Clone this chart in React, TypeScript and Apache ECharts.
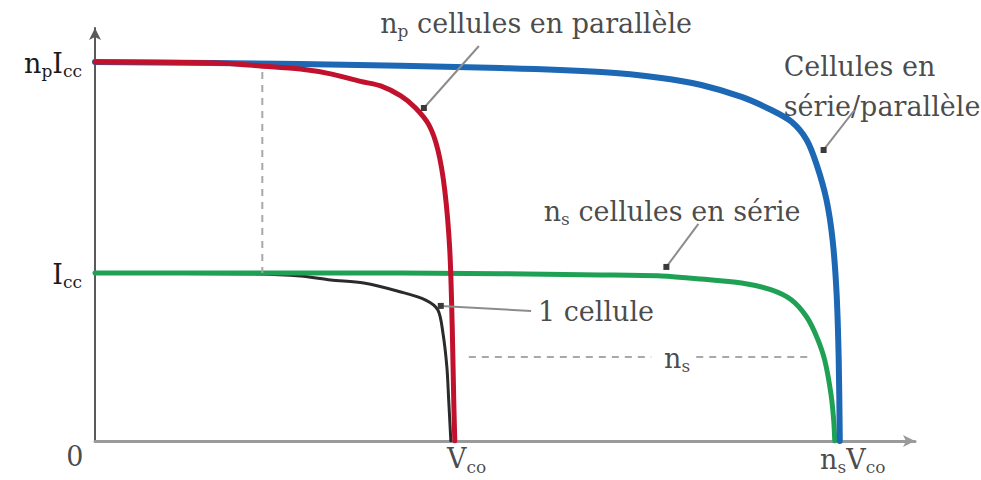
import React, { useEffect, useRef } from "react";
import * as echarts from "echarts";

// Units: x in Vco, y in Icc
const X_MAX = 2.279;
const Y_MAX = 2.458;

const Y_TICK_VALUES = [1, 2.256];
const Y_TICK_LABELS = ["{m|I}{s|cc}", "{m|n}{s|p}{m|I}{s|cc}"];

const redParallel: [number, number][] = [
  [0, 2.256], [0.34, 2.25], [0.46, 2.232], [0.571, 2.214], [0.655, 2.185],
  [0.738, 2.14], [0.794, 2.113], [0.85, 2.054], [0.891, 1.982], [0.928, 1.881],
  [0.953, 1.732], [0.972, 1.494], [0.986, 1.137], [0.993, 0.661], [0.997, 0.244], [1.0, 0],
];

const blueSeriesParallel: [number, number][] = [
  [0, 2.256], [0.571, 2.244], [1.128, 2.22], [1.407, 2.196], [1.574, 2.161],
  [1.685, 2.119], [1.797, 2.048], [1.88, 1.97], [1.936, 1.9], [1.978, 1.792],
  [2.006, 1.643], [2.033, 1.435], [2.05, 1.196], [2.061, 0.881], [2.067, 0.482], [2.07, 0],
];

const greenSeries: [number, number][] = [
  [0, 1.0], [0.85, 1.0], [1.407, 0.988], [1.574, 0.982], [1.685, 0.964],
  [1.797, 0.94], [1.88, 0.899], [1.936, 0.839], [1.978, 0.738], [2.006, 0.619],
  [2.028, 0.482], [2.045, 0.286], [2.053, 0.125], [2.056, 0],
];

const blackOneCell: [number, number][] = [
  [0, 1.0], [0.432, 0.994], [0.571, 0.982], [0.655, 0.958], [0.747, 0.94],
  [0.85, 0.887], [0.919, 0.839], [0.953, 0.78], [0.967, 0.643], [0.978, 0.44],
  [0.983, 0.244], [0.989, 0],
];

const dashVertical: [number, number][] = [[0.465, 2.196], [0.465, 1.0]];
const dashHorizontalA: [number, number][] = [[1.039, 0.5], [1.546, 0.5]];
const dashHorizontalB: [number, number][] = [[1.671, 0.5], [1.986, 0.5]];

const leaders: [number, number][][] = [
  [[1.067, 2.351], [0.914, 1.982]],
  [[2.111, 1.97], [2.025, 1.732]],
  [[1.677, 1.292], [1.588, 1.036]],
  [[1.212, 0.774], [0.961, 0.804]],
];

type Ann = { pos: [number, number]; text: string; align?: string };
const annotations: Ann[] = [
  { pos: [-0.056, -0.083], text: "{m|0}" },
  { pos: [1.033, -0.098], text: "{m|V}{s|co}" },
  { pos: [2.106, -0.1], text: "{m|n}{s|s}{m|V}{s|co}" },
  { pos: [1.226, 2.494], text: "{m|n}{s|p}{m| cellules en parallèle}" },
  { pos: [1.914, 2.107], text: "Cellules en\nsérie/parallèle", align: "left" },
  { pos: [1.604, 1.375], text: "{m|n}{s|s}{m| cellules en série}" },
  { pos: [1.231, 0.78], text: "{m|1 cellule}", align: "left" },
  { pos: [1.618, 0.5], text: "{m|n}{s|s}" },
];

const FONT = "'DejaVu Serif', 'Liberation Serif', serif";
const TEXT = "#1a1a1a";
const rich = {
  m: { fontSize: 27, fontFamily: FONT, color: TEXT, lineHeight: 30, verticalAlign: "bottom" },
  s: { fontSize: 17, fontFamily: FONT, color: TEXT, lineHeight: 17, verticalAlign: "bottom", padding: [0, 0, -3, 0] },
};

export default function App() {
  const ref = useRef<HTMLDivElement>(null);
  useEffect(() => {
    if (!ref.current) return;
    const chart = echarts.init(ref.current, null, { renderer: "svg" });
    const curve = (name: string, data: [number, number][], color: string, width: number) => ({
      name,
      type: "line",
      data,
      showSymbol: false,
      symbol: "none",
      smooth: 0.3,
      lineStyle: { color, width, cap: "round", join: "round" },
      silent: true,
    });
    const dashed = (data: [number, number][]) => ({
      type: "line",
      data,
      symbol: "none",
      lineStyle: { color: "#a8a8a8", width: 2, type: [7, 6] },
      silent: true,
    });
    const leaderSeries = leaders.map((seg) => ({
      type: "line",
      data: [
        { value: seg[0], symbol: "none" },
        { value: seg[1], symbol: "rect", symbolSize: 6 },
      ],
      showSymbol: true,
      itemStyle: { color: "#3a3a3a" },
      lineStyle: { color: "#8c8c8c", width: 2 },
      silent: true,
    }));
    chart.setOption({
      animation: false,
      backgroundColor: "#fff",
      grid: { left: 95, right: 66, top: 28, bottom: 39 },
      xAxis: {
        type: "value",
        min: 0,
        max: X_MAX,
        axisLine: {
          show: true,
          lineStyle: { color: "#9a9a9a", width: 3 },
          symbol: ["none", "arrow"],
          symbolSize: [9, 12],
        },
        axisTick: { show: false },
        axisLabel: { show: false },
        splitLine: { show: false },
      },
      yAxis: {
        type: "value",
        min: 0,
        max: Y_MAX,
        axisLine: {
          show: true,
          lineStyle: { color: "#5a5a5a", width: 2 },
          symbol: ["none", "arrow"],
          symbolSize: [9, 12],
        },
        axisTick: { show: false },
        splitLine: { show: false },
        axisLabel: {
          show: true,
          customValues: Y_TICK_VALUES,
          margin: 13,
          formatter: (v: number) => Y_TICK_LABELS[Y_TICK_VALUES.indexOf(v)] ?? "",
          rich,
        },
      },
      series: [
        curve("1 cellule", blackOneCell, "#2b2b2b", 3),
        curve("ns cellules en série", greenSeries, "#1fa155", 5),
        curve("Cellules en série/parallèle", blueSeriesParallel, "#1c68b4", 6),
        curve("np cellules en parallèle", redParallel, "#c1112c", 5),
        dashed(dashVertical),
        dashed(dashHorizontalA),
        dashed(dashHorizontalB),
        ...leaderSeries,
        {
          type: "scatter",
          clip: false,
          silent: true,
          symbolSize: 0,
          data: annotations.map((a) => ({
            value: a.pos,
            label: {
              show: true,
              position: "inside",
              align: a.align ?? "center",
              verticalAlign: "middle",
              formatter: a.text,
              fontFamily: FONT,
              fontSize: 27,
              lineHeight: 40,
              color: TEXT,
              rich,
            },
          })),
        },
      ],
    });
    return () => chart.dispose();
  }, []);
  return (
    <div
      ref={ref}
      style={{ position: "absolute", left: 0, top: 0, width: 981, height: 480, background: "#fff" }}
    />
  );
}
